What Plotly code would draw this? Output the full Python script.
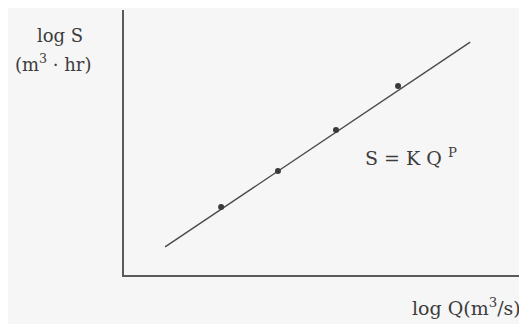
import plotly.graph_objects as go

# fitted line S = K Q^P on log-log axes (schematic, arbitrary units)
line_logQ = [1.02, 8.59]
line_logS = [1.06, 8.79]

# measured points along the line
pt_logQ = [2.41, 3.82, 5.26, 6.80]
pt_logS = [2.57, 3.92, 5.47, 7.13]

ink = '#4a4a4a'
serif = 'DejaVu Serif, Liberation Serif, serif'

fig = go.Figure()

fig.add_trace(go.Scatter(x=line_logQ, y=line_logS, mode='lines',
                         line=dict(color=ink, width=1.4), hoverinfo='skip'))
fig.add_trace(go.Scatter(x=pt_logQ, y=pt_logS, mode='markers',
                         marker=dict(color='#3a3a3a', size=6), hoverinfo='skip'))

# page body adds an 8px margin, so the figure is drawn 8px smaller
fig.update_layout(
    width=519, height=316,
    margin=dict(l=116, r=0, t=2, b=49),
    paper_bgcolor='#f6f6f6',
    plot_bgcolor='#f6f6f6',
    showlegend=False,
    font=dict(family=serif, size=18, color=ink),
    xaxis=dict(range=[0, 10], showgrid=False, zeroline=False, showticklabels=False,
               ticks='', showline=True, linecolor='#5a5a5a', linewidth=2, fixedrange=True),
    yaxis=dict(range=[0, 10], showgrid=False, zeroline=False, showticklabels=False,
               ticks='', showline=True, linecolor='#5a5a5a', linewidth=2, fixedrange=True),
)

def px_to_paper(px, py):
    return (px - 124) / 403, (275 - py) / 265

labels = [
    (60, 36, 'log S', 18),
    (53, 63, '(m<sup>3</sup> · hr)', 18),
    (466, 307, 'log Q(m<sup>3</sup>/s)', 19),
    (411, 157, 'S = K Q <sup>P</sup>', 19),
]
for px, py, txt, sz in labels:
    ax, ay = px_to_paper(px, py)
    fig.add_annotation(x=ax, y=ay, xref='paper', yref='paper', text=txt,
                       showarrow=False, xanchor='center', yanchor='middle',
                       font=dict(family=serif, size=sz, color='#3c3c3c'))

fig.write_html("out.html")
